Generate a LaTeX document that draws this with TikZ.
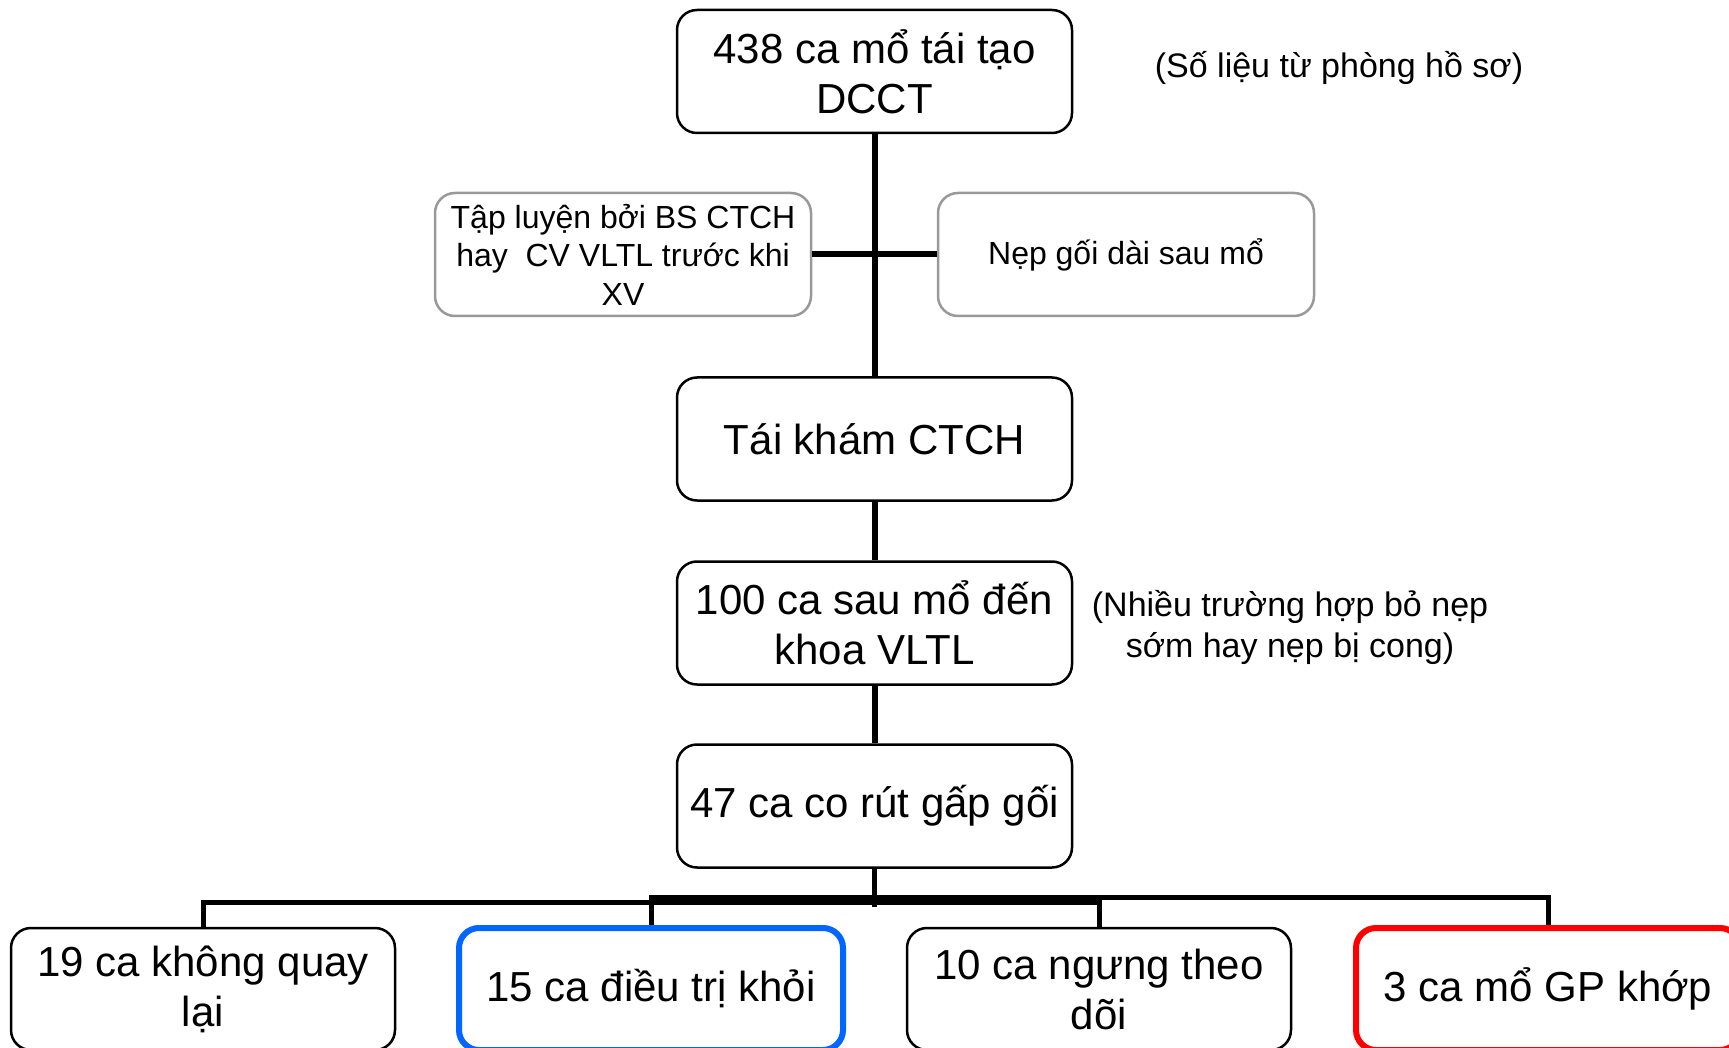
\documentclass[tikz,border=0pt]{standalone}
\usepackage{fontspec}
\setmainfont{Liberation Sans}
\definecolor{boxgray}{HTML}{999999}
\definecolor{boxblue}{HTML}{0066FF}
\definecolor{boxred}{HTML}{FF0000}
\begin{document}
\begin{tikzpicture}[x=1pt,y=-1pt,
  mainbox/.style={draw=black,line width=2.5pt,rounded corners=20pt,minimum width=395pt,minimum height=123pt,align=center,inner sep=0pt,font=\fontsize{42}{50}\selectfont},
  sidebox/.style={draw=boxgray,line width=2.5pt,rounded corners=20pt,minimum width=376pt,minimum height=123pt,align=center,inner sep=0pt,font=\fontsize{32}{38.5}\selectfont},
  leafbox/.style={draw=black,line width=2.5pt,rounded corners=20pt,minimum width=384pt,minimum height=122pt,align=center,inner sep=0pt,font=\fontsize{42}{50}\selectfont},
  notetext/.style={align=center,inner sep=0pt,font=\fontsize{34}{41}\selectfont},
  conn/.style={draw=black,line width=6pt},
  busline/.style={draw=black,line width=5pt}]
\useasboundingbox[fill=white] (0,0) rectangle (1729,1048);

\node[mainbox] (top) at (874.5,71.5) {438 ca mổ tái tạo\\DCCT};
\node[notetext] (note1) at (1339,68) {(Số liệu từ phòng hồ sơ)};
\node[sidebox] (left) at (623,254.5) {Tập luyện bởi BS CTCH\\hay~ CV VLTL trước khi\\XV};
\node[sidebox] (right) at (1126,254.5) {Nẹp gối dài sau mổ};
\node[mainbox] (tk) at (874.5,439) {Tái khám CTCH};
\node[mainbox] (n100) at (874.5,623) {100 ca sau mổ đến\\khoa VLTL};
\node[notetext] (note2) at (1290,627) {(Nhiều trường hợp bỏ nẹp\\sớm hay nẹp bị cong)};
\node[mainbox] (n47) at (874.5,806) {47 ca co rút gấp gối};

\node[leafbox] (b19) at (203,989) {19 ca không quay\\lại};
\node[leafbox,draw=boxblue,line width=6pt] (b15) at (651,989) {15 ca điều trị khỏi};
\node[leafbox] (b10) at (1099,989) {10 ca ngưng theo\\dõi};
\node[leafbox,draw=boxred,line width=6pt] (b3) at (1548,989) {3 ca mổ GP khớp};

\coordinate (busmid) at (874.5,907);

\draw[conn] (left.east) -- (right.west);
\draw[conn] (top.south) -- (tk.north);
\draw[conn] (tk.south) -- (n100.north);
\draw[conn] (n100.south) -- (n47.north);
\draw[conn,line width=5pt] (n47.south) -- (busmid);

\draw[busline] (b19.north) -- ++(0,-24) -| (b10.north);
\draw[busline] (b15.north) -- ++(0,-28) -| (b3.north);
\end{tikzpicture}
\end{document}
